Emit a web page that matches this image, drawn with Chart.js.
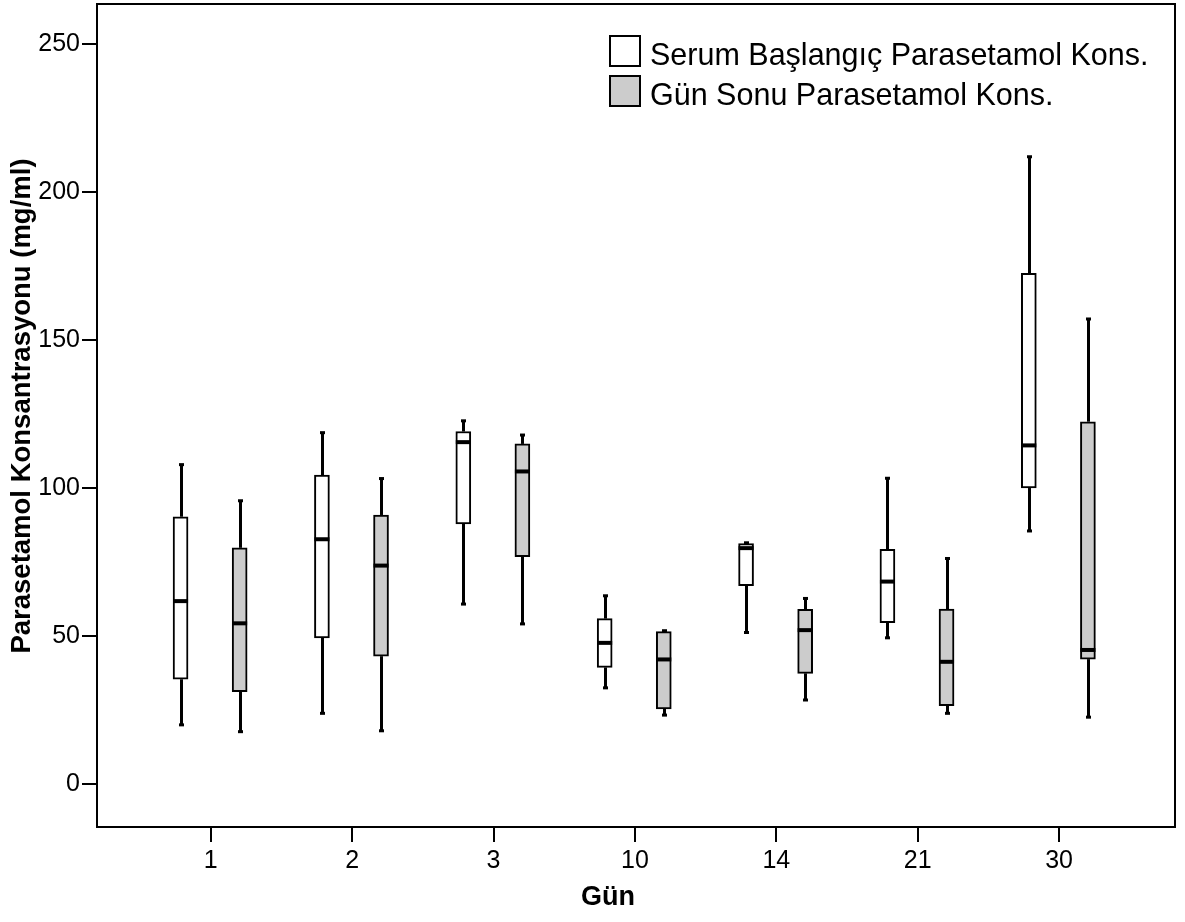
<!DOCTYPE html>
<html>
<head>
<meta charset="utf-8">
<script src="https://cdn.jsdelivr.net/npm/chart.js@4.4.1/dist/chart.umd.min.js"></script>
<style>
  body { margin: 0; background: #fff; }
  #wrap { position: relative; width: 1185px; height: 922px; }
  #legend { position: absolute; left: 609px; top: 31px; font-family: "Liberation Sans", Arial, sans-serif; font-size: 30.5px; color: #000; }
  .item { display: flex; align-items: center; height: 40px; }
  .sw { width: 28px; height: 28px; border: 2px solid #000; margin-right: 9px; }
  .item span { position: relative; top: 3px; }
</style>
</head>
<body>
<div id="wrap">
  <canvas id="chart" width="1185" height="922"></canvas>
  <div id="legend"></div>
</div>
<script>
// data
const days = ["1", "2", "3", "10", "14", "21", "30"];
const yTickValues = [0, 50, 100, 150, 200, 250];

const serumLow  = [20.0, 23.9, 60.8, 32.5, 51.2, 49.4, 85.5];
const serumQ1   = [35.4, 49.4, 87.9, 39.4, 67.0, 54.5, 100.0];
const serumMed  = [61.8, 82.7, 115.5, 47.7, 79.7, 68.4, 114.4];
const serumQ3   = [90.3, 104.4, 119.1, 55.9, 81.2, 79.3, 172.5];
const serumHigh = [107.9, 118.7, 122.7, 63.6, 81.5, 103.3, 211.9];

const endLow  = [17.7, 18.0, 54.1, 23.3, 28.4, 23.9, 22.6];
const endQ1   = [31.2, 43.2, 76.8, 25.4, 37.4, 26.5, 42.2];
const endMed  = [54.3, 73.8, 105.6, 42.1, 52.0, 41.3, 45.3];
const endQ3   = [79.8, 90.9, 114.9, 51.5, 59.0, 59.1, 122.4];
const endHigh = [95.7, 103.2, 117.9, 51.8, 62.7, 76.2, 157.1];

const xTitle = "Gün";
const yTitle = "Parasetamol Konsantrasyonu (mg/ml)";

const series = [
  { label: "Serum Başlangıç Parasetamol Kons.", low: serumLow, q1: serumQ1, med: serumMed, q3: serumQ3, high: serumHigh, fill: "#ffffff", off: -0.214 },
  { label: "Gün Sonu Parasetamol Kons.", low: endLow, q1: endQ1, med: endMed, q3: endQ3, high: endHigh, fill: "#cccccc", off: 0.204 }
];

// legend (html overlay)
const legendEl = document.getElementById("legend");
series.forEach((s) => {
  const row = document.createElement("div");
  row.className = "item";
  row.innerHTML = `<div class="sw" style="background:${s.fill}"></div><span>${s.label}</span>`;
  legendEl.appendChild(row);
});

const font = "'Liberation Sans', Arial, sans-serif";

function line(ctx, x1, y1, x2, y2) {
  ctx.beginPath(); ctx.moveTo(x1, y1); ctx.lineTo(x2, y2); ctx.stroke();
}

const bgPlugin = {
  id: "bg",
  beforeDraw(chart) {
    const c = chart.ctx;
    c.save(); c.fillStyle = "#fff"; c.fillRect(0, 0, chart.width, chart.height); c.restore();
  }
};

// whiskers + median lines, drawn from the same scales as the boxes
const whiskerPlugin = {
  id: "whiskers",
  afterDatasetsDraw(chart) {
    const { ctx, scales: { y } } = chart;
    ctx.save();
    ctx.strokeStyle = "#000"; ctx.fillStyle = "#000";
    series.forEach((s, di) => {
      chart.getDatasetMeta(di).data.forEach((bar, i) => {
        const x = Math.round(bar.x) + 0.5;
        const yHi = y.getPixelForValue(s.high[i]);
        const yQ3 = y.getPixelForValue(s.q3[i]);
        const yQ1 = y.getPixelForValue(s.q1[i]);
        const yLo = y.getPixelForValue(s.low[i]);
        const yMed = y.getPixelForValue(s.med[i]);
        ctx.lineWidth = 3;
        if (yHi < yQ3 - 1) line(ctx, x, yQ3, x, yHi);
        if (yLo > yQ1 + 1) line(ctx, x, yQ1, x, yLo);
        ctx.fillRect(x - 2.5, yHi - 1.5, 5, 3);
        ctx.fillRect(x - 2.5, yLo - 1.5, 5, 3);
        ctx.lineWidth = 4;
        line(ctx, bar.x - bar.width / 2, yMed, bar.x + bar.width / 2, yMed);
      });
    });
    ctx.restore();
  }
};

// frame + axis titles (placed like the SPSS output, not centred on the plot)
const framePlugin = {
  id: "frame",
  afterDraw(chart) {
    const { ctx, chartArea: a } = chart;
    ctx.save(); ctx.strokeStyle = "#000"; ctx.lineWidth = 2;
    ctx.strokeRect(a.left, a.top, a.right - a.left, a.bottom - a.top);
    ctx.fillStyle = "#000";
    ctx.font = "bold 27px " + font;
    ctx.textAlign = "center"; ctx.textBaseline = "middle";
    ctx.fillText(xTitle, 608, 898);
    ctx.translate(22, 406); ctx.rotate(-Math.PI / 2);
    ctx.font = "bold 27.5px " + font;
    ctx.fillText(yTitle, 0, 0);
    ctx.restore();
  }
};

new Chart(document.getElementById("chart"), {
  type: "bar",
  data: {
    datasets: series.map((s) => ({
      label: s.label,
      data: s.q1.map((v, i) => ({ x: i + s.off, y: [v, s.q3[i]] })),
      backgroundColor: s.fill,
      borderColor: "#000",
      borderWidth: 2,
      borderSkipped: false,
      barThickness: 15,
      grouped: false
    }))
  },
  options: {
    responsive: false,
    animation: false,
    devicePixelRatio: 1,
    layout: { padding: { top: 4, right: 10, left: 0, bottom: 0 } },
    plugins: { legend: { display: false }, tooltip: { enabled: false } },
    scales: {
      x: {
        type: "linear",
        min: -0.805,
        max: 6.82,
        offset: false,
        afterBuildTicks: (s) => { s.ticks = days.map((d, i) => ({ value: i })); },
        afterFit: (s) => { s.height = 95; s.paddingLeft = 0; s.paddingRight = 0; },
        ticks: { callback: (v) => days[v], font: { family: font, size: 25 }, color: "#000", padding: 4, maxRotation: 0, autoSkip: false },
        grid: { offset: false, drawOnChartArea: false, tickLength: 15, color: "#000", lineWidth: 2 },
        border: { color: "#000", width: 2 }
      },
      y: {
        min: -14.5,
        max: 263.5,
        afterBuildTicks: (s) => { s.ticks = yTickValues.map((v) => ({ value: v })); },
        afterFit: (s) => { s.width = 97; s.paddingTop = 0; s.paddingBottom = 0; },
        ticks: { font: { family: font, size: 25 }, color: "#000", padding: 2 },
        grid: { drawOnChartArea: false, tickLength: 15, color: "#000", lineWidth: 2 },
        border: { color: "#000", width: 2 }
      }
    }
  },
  plugins: [bgPlugin, whiskerPlugin, framePlugin]
});
</script>
</body>
</html>
